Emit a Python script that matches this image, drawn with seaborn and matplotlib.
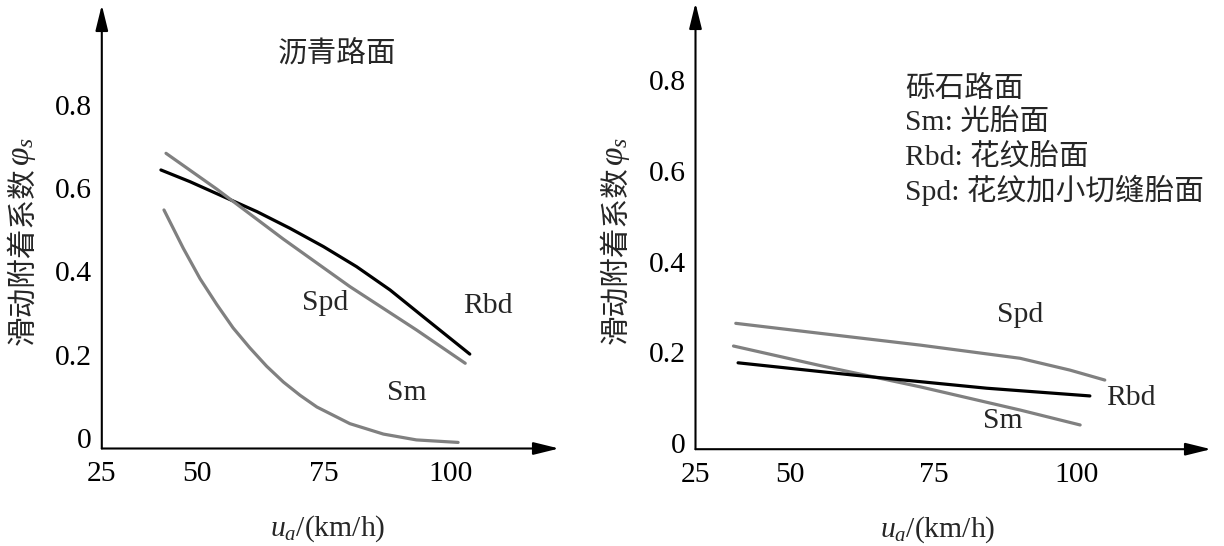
import matplotlib
matplotlib.use("Agg")
import matplotlib.pyplot as plt
import numpy as np
import pandas as pd
import seaborn as sns

# ---------------- data ----------------
tire_names = ["Sm", "Rbd", "Spd"]

# asphalt road (left panel)
asph_sm_x = [43.5, 47.3, 50.6, 53.9, 57.1, 60.4, 63.7, 67.0, 70.3, 73.6, 80.1, 86.7, 93.2, 101.4]
asph_sm_y = [0.547, 0.455, 0.382, 0.320, 0.264, 0.216, 0.172, 0.134, 0.102, 0.074, 0.034, 0.009, -0.005, -0.011]
asph_rbd_x = [42.9, 48.6, 55.2, 61.8, 68.3, 74.9, 81.4, 88.0, 94.5, 103.7]
asph_rbd_y = [0.643, 0.615, 0.579, 0.543, 0.503, 0.459, 0.411, 0.355, 0.291, 0.201]
asph_spd_x = [43.9, 53.9, 67.0, 80.1, 93.2, 102.8]
asph_spd_y = [0.683, 0.597, 0.477, 0.363, 0.259, 0.179]

# gravel road (right panel)
grav_sm_x = [40.1, 55.2, 72.7, 90.1, 100.6]
grav_sm_y = [0.214, 0.171, 0.124, 0.073, 0.040]
grav_rbd_x = [40.9, 61.0, 84.3, 102.3]
grav_rbd_y = [0.177, 0.150, 0.121, 0.104]
grav_spd_x = [40.5, 55.2, 72.7, 90.1, 98.8, 104.9]
grav_spd_y = [0.264, 0.242, 0.216, 0.187, 0.161, 0.139]

x_tick_vals = [50, 75, 100]
x_tick_labels = ["25", "50", "75", "100"]
y_tick_vals = [0, 0.2, 0.4, 0.6, 0.8]
y_tick_labels = ["0", "0.2", "0.4", "0.6", "0.8"]

left_title = "沥青路面"
right_notes = ["砾石路面", "Sm: 光胎面", "Rbd: 花纹胎面", "Spd: 花纹加小切缝胎面"]
ylabel_text = "滑动附着系数"
ylabel_sym = "$\\varphi_s$"
xlabel = "$u_a$/(km/h)"


def make_df(sm_x, sm_y, rbd_x, rbd_y, spd_x, spd_y):
    rows = []
    for name, xs, ys in zip(tire_names, [sm_x, rbd_x, spd_x], [sm_y, rbd_y, spd_y]):
        for x, y in zip(xs, ys):
            rows.append({"speed": x, "phi": y, "tire": name})
    return pd.DataFrame(rows)


df_asph = make_df(asph_sm_x, asph_sm_y, asph_rbd_x, asph_rbd_y, asph_spd_x, asph_spd_y)
df_grav = make_df(grav_sm_x, grav_sm_y, grav_rbd_x, grav_rbd_y, grav_spd_x, grav_spd_y)

# ---------------- style ----------------
sns.set_style("white")
plt.rcParams["font.family"] = ["Liberation Serif", "Noto Sans CJK SC"]
plt.rcParams["mathtext.fontset"] = "custom"
plt.rcParams["mathtext.rm"] = "Liberation Serif"
plt.rcParams["mathtext.it"] = "Liberation Serif:italic"
plt.rcParams["axes.unicode_minus"] = False

palette = {"Sm": "#808080", "Rbd": "#000000", "Spd": "#808080"}
FS = 21.3
FS_CJK = 21.3

W, H = 1224, 546
fig = plt.figure(figsize=(W / 100, H / 100), dpi=100)


def px_axes(x0, x1, ytop, ybot):
    return fig.add_axes([x0 / W, 1 - ybot / H, (x1 - x0) / W, (ybot - ytop) / H])


axL = px_axes(101.8, 559, 5, 448.5)
axR = px_axes(695.5, 1211, 3, 449.2)

limits = {
    "L": ((31.26, 121.26), (-0.0256, 1.039)),
    "R": ((33.47, 123.44), (-0.0134, 0.970)),
}


def style_axes(ax, xlim, ylim):
    ax.set_xlim(*xlim)
    ax.set_ylim(*ylim)
    for s in ax.spines.values():
        s.set_visible(False)
    ax.set_xticks([xlim[0]] + x_tick_vals)
    ax.set_xticklabels(x_tick_labels)
    ax.set_yticks(y_tick_vals)
    ax.set_yticklabels(y_tick_labels)
    ax.tick_params(axis="x", direction="in", length=11.5, width=1.3, pad=9,
                   labelsize=FS, colors="black")
    ax.tick_params(axis="y", direction="in", length=13.5, width=1.3, pad=7,
                   labelsize=FS, colors="black")
    ax.xaxis.get_major_ticks()[0].tick1line.set_visible(False)
    ax.yaxis.get_major_ticks()[0].tick1line.set_visible(False)
    arrow = dict(arrowstyle="-|>,head_length=1.3,head_width=0.32", color="black",
                 lw=1.5, shrinkA=0, shrinkB=0, mutation_scale=12)
    ax.annotate("", xy=(1, 0), xytext=(0, 0), xycoords="axes fraction",
                textcoords="axes fraction", arrowprops=arrow, annotation_clip=False)
    ax.annotate("", xy=(0, 1), xytext=(0, 0), xycoords="axes fraction",
                textcoords="axes fraction", arrowprops=arrow, annotation_clip=False)
    ax.set_xlabel(xlabel, fontsize=FS)
    ax.set_ylabel(ylabel_text, fontsize=FS_CJK)
    ax.grid(False)
    ax.set_facecolor("white")


for ax, df, key in [(axL, df_asph, "L"), (axR, df_grav, "R")]:
    sns.lineplot(data=df, x="speed", y="phi", hue="tire", palette=palette,
                 linewidth=2.3, ax=ax, legend=False, sort=True, estimator=None)
    style_axes(ax, *limits[key])

axL.xaxis.set_label_coords(0.495, -0.147)
axL.yaxis.set_label_coords(-0.141, 0.434)
axR.xaxis.set_label_coords(0.470, -0.145)
axR.yaxis.set_label_coords(-0.127, 0.435)

# phi_s symbol above the Chinese part of each y label
fig.text(23 / W, 1 - 166 / H, ylabel_sym, fontsize=24, rotation=90,
         ha="center", va="bottom")
fig.text(617 / W, 1 - 166 / H, ylabel_sym, fontsize=24, rotation=90,
         ha="center", va="bottom")

# curve labels
axL.text(75.2, 0.324, "Spd", fontsize=FS, ha="center", va="center")
axL.text(107.3, 0.316, "Rbd", fontsize=FS, ha="center", va="center")
axL.text(91.3, 0.108, "Sm", fontsize=FS, ha="center", va="center")
axL.text(77.6, 0.921, left_title, fontsize=FS_CJK, ha="center", va="center")

axR.text(90.1, 0.282, "Spd", fontsize=FS, ha="center", va="center")
axR.text(109.5, 0.0995, "Rbd", fontsize=FS, ha="center", va="center")
axR.text(87.1, 0.0497, "Sm", fontsize=FS, ha="center", va="center")
for line, yv in zip(right_notes, [0.779, 0.706, 0.631, 0.558]):
    axR.text(70.1, yv, line, fontsize=FS_CJK, ha="left", va="center")

fig.savefig("out.png", dpi=100, facecolor="white")
